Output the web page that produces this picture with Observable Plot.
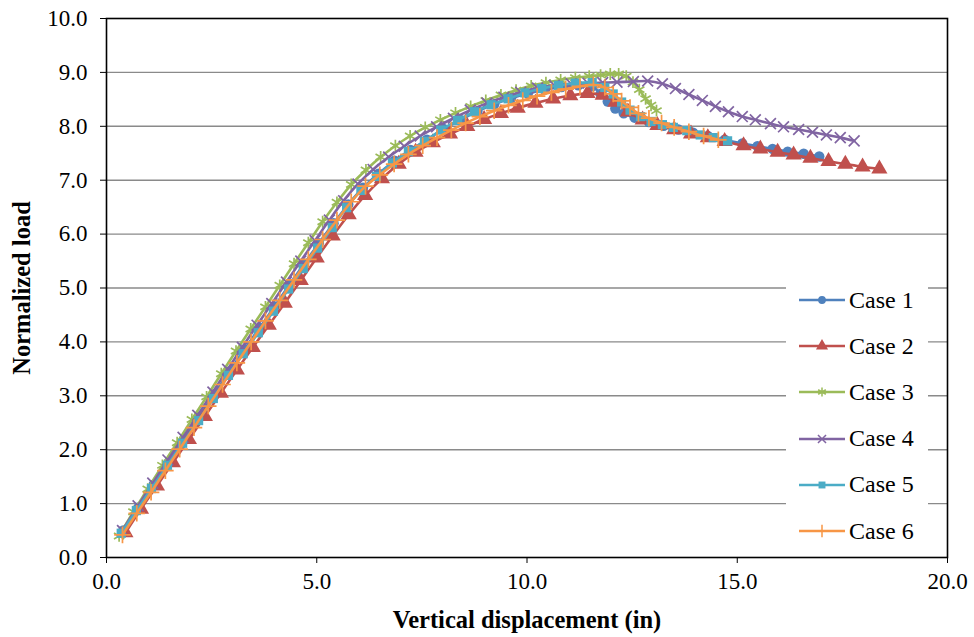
<!DOCTYPE html>
<html><head><meta charset="utf-8">
<script src="https://cdn.jsdelivr.net/npm/d3@7"></script>
<script src="https://cdn.jsdelivr.net/npm/@observablehq/plot@0.6"></script>
<style>
body{margin:0;background:#fff;}
#wrap{position:relative;width:974px;height:637px;overflow:hidden;}
#legend{position:absolute;left:786px;top:278px;width:142px;height:272px;background:#fff;font-family:"Liberation Serif","Times New Roman",serif;font-size:24px;color:#000;}
.row{position:absolute;left:12px;height:30px;display:flex;align-items:center;white-space:nowrap;}
.row svg{margin-right:3px;}
g[aria-label="x-axis label"] text, g[aria-label="y-axis label"] text,
g[aria-label="x-axis label"], g[aria-label="y-axis label"]{font-weight:bold;font-size:24.5px;}
</style>
</head><body>
<div id="wrap"></div>
<script>
// ---- data ----
const caseNames = ["Case 1","Case 2","Case 3","Case 4","Case 5","Case 6"];
const xTicks = [0,5,10,15,20];
const yTicks = [0,1,2,3,4,5,6,7,8,9,10];
const gridValues = [1,2,3,4,5,6,7,8,9];
const xLabel = "Vertical displacement (in)";
const yLabel = "Normalized load";

const case1 = [[0.40,0.50],[0.76,0.93],[1.12,1.35],[1.48,1.77],[1.84,2.19],[2.20,2.61],[2.56,3.03],[2.92,3.45],[3.28,3.86],[3.64,4.26],[4.00,4.66],[4.35,5.06],[4.70,5.45],[5.05,5.83],[5.40,6.20],[5.75,6.55],[6.10,6.86],[6.47,7.12],[6.85,7.36],[7.23,7.56],[7.62,7.75],[8.02,7.95],[8.42,8.12],[8.82,8.28],[9.22,8.41],[9.62,8.52],[10.02,8.61],[10.42,8.68],[10.82,8.73],[11.22,8.76],[11.55,8.74],[11.75,8.60],[11.92,8.46],[12.10,8.33],[12.30,8.24],[12.56,8.16],[12.90,8.08],[13.25,8.01],[13.60,7.94],[13.95,7.88],[14.30,7.82],[14.70,7.75],[15.12,7.68],[15.48,7.63],[15.84,7.58],[16.20,7.53],[16.58,7.49],[16.95,7.44]];
const case2 = [[0.45,0.46],[0.82,0.90],[1.20,1.33],[1.58,1.76],[1.96,2.19],[2.34,2.62],[2.72,3.05],[3.10,3.48],[3.48,3.90],[3.86,4.31],[4.24,4.72],[4.62,5.14],[5.00,5.56],[5.38,5.97],[5.76,6.36],[6.15,6.72],[6.55,7.03],[6.95,7.30],[7.35,7.52],[7.76,7.70],[8.17,7.86],[8.58,8.00],[8.98,8.13],[9.38,8.24],[9.78,8.34],[10.20,8.43],[10.62,8.51],[11.03,8.57],[11.44,8.61],[11.80,8.58],[12.10,8.45],[12.40,8.27],[12.75,8.12],[13.10,8.02],[13.50,7.94],[13.90,7.86],[14.30,7.79],[14.70,7.72],[15.15,7.64],[15.55,7.58],[15.96,7.52],[16.34,7.47],[16.74,7.41],[17.17,7.35],[17.57,7.30],[17.98,7.25],[18.38,7.21]];
const case3 = [[0.30,0.40],[0.64,0.85],[0.98,1.27],[1.33,1.71],[1.68,2.13],[2.03,2.56],[2.38,2.98],[2.73,3.41],[3.08,3.83],[3.43,4.24],[3.78,4.65],[4.12,5.05],[4.46,5.45],[4.80,5.84],[5.14,6.23],[5.48,6.59],[5.82,6.92],[6.17,7.19],[6.52,7.43],[6.87,7.64],[7.22,7.82],[7.58,7.98],[7.94,8.12],[8.30,8.25],[8.66,8.37],[9.02,8.48],[9.38,8.58],[9.74,8.67],[10.10,8.75],[10.45,8.81],[10.80,8.86],[11.15,8.90],[11.48,8.93],[11.75,8.95],[11.98,8.97],[12.18,8.97],[12.36,8.93],[12.52,8.82],[12.67,8.68],[12.82,8.51],[12.95,8.39],[13.08,8.29]];
const case4 = [[0.38,0.50],[0.75,0.96],[1.10,1.38],[1.46,1.81],[1.82,2.23],[2.17,2.64],[2.53,3.07],[2.88,3.49],[3.23,3.90],[3.58,4.31],[3.93,4.71],[4.28,5.11],[4.62,5.50],[4.96,5.88],[5.30,6.26],[5.64,6.62],[5.98,6.93],[6.34,7.20],[6.71,7.43],[7.08,7.63],[7.46,7.82],[7.85,7.99],[8.25,8.15],[8.65,8.30],[9.05,8.43],[9.45,8.54],[9.85,8.63],[10.25,8.71],[10.65,8.76],[11.05,8.79],[11.45,8.80],[11.80,8.81],[12.14,8.82],[12.53,8.83],[12.87,8.84],[13.22,8.79],[13.53,8.70],[13.85,8.59],[14.17,8.48],[14.48,8.37],[14.79,8.27],[15.12,8.18],[15.43,8.12],[15.79,8.05],[16.10,7.99],[16.46,7.94],[16.79,7.89],[17.12,7.84],[17.45,7.79],[17.78,7.73]];
const case5 = [[0.35,0.45],[0.71,0.87],[1.07,1.28],[1.45,1.71],[1.81,2.12],[2.19,2.54],[2.54,2.95],[2.90,3.38],[3.25,3.78],[3.61,4.17],[3.97,4.57],[4.33,4.98],[4.68,5.36],[5.02,5.74],[5.37,6.12],[5.71,6.49],[6.05,6.81],[6.42,7.07],[6.80,7.32],[7.18,7.53],[7.56,7.72],[7.95,7.93],[8.35,8.11],[8.75,8.27],[9.15,8.40],[9.55,8.51],[9.95,8.62],[10.35,8.70],[10.75,8.76],[11.15,8.80],[11.55,8.81],[11.85,8.72],[12.05,8.60],[12.25,8.45],[12.45,8.30],[12.70,8.18],[12.95,8.09],[13.22,8.03],[13.48,7.98],[13.80,7.92],[14.12,7.84],[14.43,7.79],[14.77,7.73]];
const case6 = [[0.38,0.42],[0.72,0.82],[1.06,1.21],[1.40,1.61],[1.74,2.01],[2.08,2.41],[2.42,2.81],[2.76,3.21],[3.10,3.61],[3.44,4.00],[3.78,4.39],[4.12,4.77],[4.46,5.15],[4.80,5.53],[5.14,5.90],[5.48,6.26],[5.82,6.60],[6.16,6.89],[6.50,7.10],[6.84,7.30],[7.18,7.48],[7.52,7.64],[7.86,7.79],[8.20,7.93],[8.54,8.06],[8.88,8.18],[9.22,8.29],[9.56,8.39],[9.90,8.48],[10.24,8.56],[10.58,8.63],[10.92,8.69],[11.26,8.74],[11.58,8.77],[11.85,8.72],[12.05,8.60],[12.25,8.47],[12.45,8.35],[12.65,8.24],[12.90,8.15],[13.20,8.06],[13.50,7.98],[13.85,7.90],[14.20,7.82],[14.55,7.75]];

const seriesData = [case1, case2, case3, case4, case5, case6];

// ---- styles ----
const colors = ["#4F81BD","#C0504D","#9BBB59","#8064A2","#4BACC6","#F79646"];
const symbols = ["circle","triangle","asterisk","times","square","plus"];
const filled = [true,true,false,false,true,false];
const sizes = [5.2,6.0,5.6,5.0,5.2,5.4];

const marks = [
  Plot.ruleY(gridValues, {stroke:"#8a8a8a", strokeWidth:1.4}),
];
seriesData.forEach((d,i)=>{
  const rows = d.map(([x,y])=>({x,y}));
  marks.push(Plot.line(rows, {x:"x", y:"y", stroke:colors[i], strokeWidth:2.6, curve:"catmull-rom"}));
  marks.push(Plot.dot(rows, filled[i]
    ? {x:"x", y:"y", symbol:symbols[i], fill:colors[i], stroke:"none", r:sizes[i]}
    : {x:"x", y:"y", symbol:symbols[i], stroke:colors[i], strokeWidth:1.7, fill:"none", r:sizes[i]}));
});
marks.push(Plot.frame({stroke:"#000", strokeWidth:1.6}));
marks.push(Plot.axisX(xTicks, {tickFormat:d3.format(".1f"), tickSize:6, tickPadding:9, label:xLabel, labelArrow:"none", labelAnchor:"center", labelOffset:70}));
marks.push(Plot.axisY(yTicks, {tickFormat:d3.format(".1f"), tickSize:6, tickPadding:13, label:yLabel, labelArrow:"none", labelAnchor:"center", labelOffset:94}));

const chart = Plot.plot({
  width:974, height:637,
  marginLeft:106, marginRight:27, marginTop:18, marginBottom:80,
  x:{domain:[0,20]},
  y:{domain:[0,10]},
  style:{fontFamily:"'Liberation Serif', 'Times New Roman', serif", fontSize:"23px", color:"#000", background:"#fff", overflow:"visible"},
  marks
});
const wrap = document.getElementById("wrap");
wrap.appendChild(chart);

// ---- legend ----
const legend = document.createElement("div");
legend.id = "legend";
const ns = "http://www.w3.org/2000/svg";
const symMap = {circle:d3.symbolCircle, triangle:d3.symbolTriangle, asterisk:d3.symbolAsterisk, times:d3.symbolTimes, square:d3.symbolSquare, plus:d3.symbolPlus};
caseNames.forEach((name,i)=>{
  const row = document.createElement("div");
  row.className = "row";
  row.style.top = (7 + i*46.2) + "px";
  const s = document.createElementNS(ns,"svg");
  s.setAttribute("width","48"); s.setAttribute("height","20");
  const ln = document.createElementNS(ns,"line");
  ln.setAttribute("x1","1"); ln.setAttribute("x2","47"); ln.setAttribute("y1","10"); ln.setAttribute("y2","10");
  ln.setAttribute("stroke",colors[i]); ln.setAttribute("stroke-width","2.6");
  s.appendChild(ln);
  const r = sizes[i]*0.75;
  const p = document.createElementNS(ns,"path");
  p.setAttribute("d", d3.symbol(symMap[symbols[i]], r*r*Math.PI)());
  p.setAttribute("transform","translate(24,10)");
  if (filled[i]) { p.setAttribute("fill",colors[i]); }
  else { p.setAttribute("fill","none"); p.setAttribute("stroke",colors[i]); p.setAttribute("stroke-width","1.5"); }
  s.appendChild(p);
  row.appendChild(s);
  const t = document.createElement("span");
  t.textContent = name;
  row.appendChild(t);
  legend.appendChild(row);
});
wrap.appendChild(legend);
</script>
</body></html>
